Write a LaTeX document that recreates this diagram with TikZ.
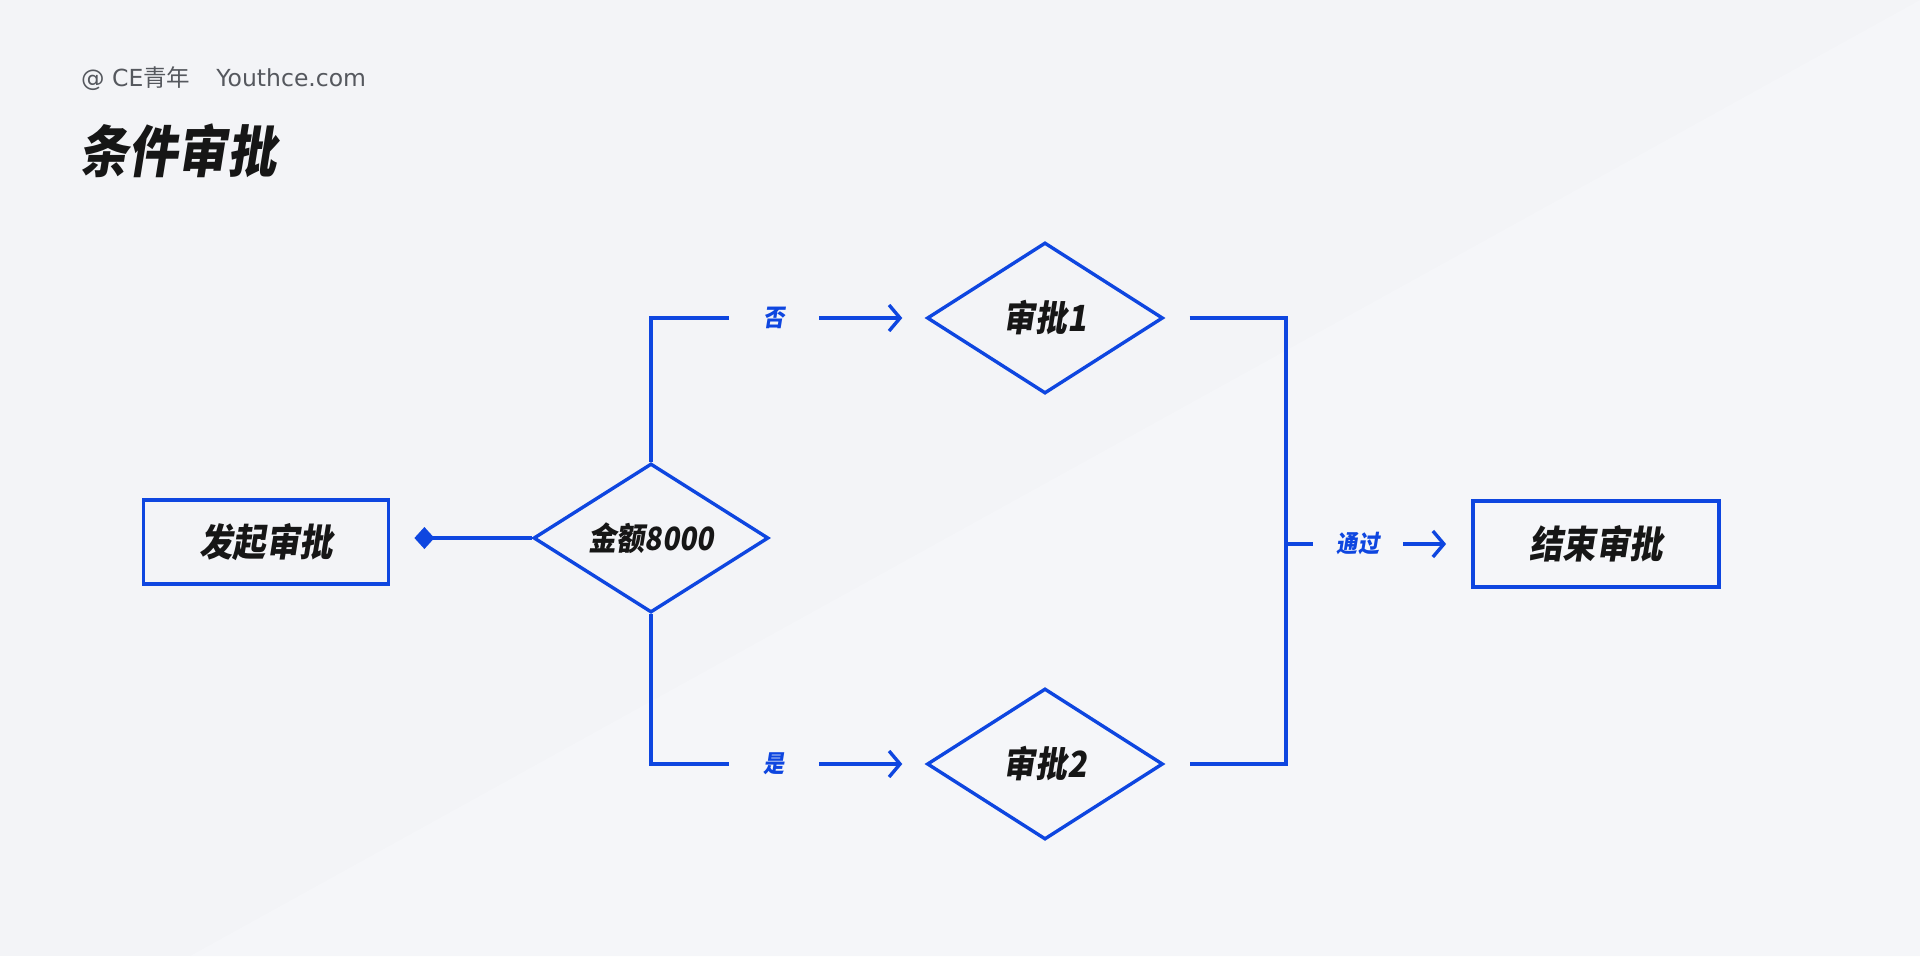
\documentclass[tikz,border=0pt]{standalone}
\usepackage{fontspec}
\setmainfont{Noto Sans CJK SC}
\newfontfamily\cjkplain{Noto Sans CJK SC}
\newfontfamily\latinsans{DejaVu Sans}
\newfontfamily\cjkslant[FakeSlant=0.16,FakeStretch=0.88]{Noto Sans CJK SC}
\usetikzlibrary{arrows.meta,positioning,shapes.geometric,calc}
\definecolor{flowBlue}{HTML}{0E46E0}
\definecolor{ink}{HTML}{161616}
\definecolor{inkSoft}{HTML}{55585E}
\definecolor{paper}{HTML}{F3F4F7}
\definecolor{paperLight}{HTML}{F5F6F9}
\tikzset{
  % --- flow shapes ---------------------------------------------------------
  stepbox/.style   = {draw=flowBlue, line width=3.8pt, fill=none,
                      minimum width=245pt, minimum height=84pt, inner sep=0pt,
                      font=\cjkslant\bfseries\fontsize{38}{40}\selectfont, text=ink},
  decision/.style  = {diamond, draw=flowBlue, line width=3.4pt, aspect=1.58,
                      minimum width=236pt, minimum height=151pt, inner sep=0pt,
                      font=\cjkslant\bfseries\fontsize{36}{40}\selectfont, text=ink},
  % --- connectors ----------------------------------------------------------
  flow/.style      = {draw=flowBlue, line width=3.4pt},
  flowarrow/.style = {flow, -{Straight Barb[length=11pt,width=26pt]}},
  % --- labels --------------------------------------------------------------
  branchlbl/.style = {minimum width=90pt, inner sep=0pt, text=flowBlue,
                      font=\cjkslant\bfseries\fontsize{24}{26}\selectfont},
  headlbl/.style   = {inner sep=0pt, text=inkSoft, font=\fontsize{23.5}{26}\selectfont},
  titlelbl/.style  = {inner sep=0pt, text=ink,
                      font=\cjkslant\bfseries\fontsize{56}{60}\selectfont},
}

\begin{document}
\begin{tikzpicture}[x=1pt,y=-1pt]
\useasboundingbox (0,0) rectangle (1920,956);
\fill[paper] (0,0) rectangle (1920,956);
\fill[paperLight] (1920,0) -- (1920,956) -- (190,956) -- cycle;

% header
\node[headlbl, anchor=base west] (brand) at (81,86)
     {{\latinsans @ CE}{\cjkplain 青年}\hspace{26pt}{\latinsans Youthce.com}};
\node[titlelbl, anchor=west] (title) at (79,151) {条件审批};

% flow nodes
\node[stepbox] (start) at (266,542) {发起审批};
\node[decision, minimum width=235pt, minimum height=149pt,
      font=\cjkslant\bfseries\fontsize{32}{34}\selectfont] (amount) at (651,538) {金额8000};
\node[decision] (appr1) at (1045,318) {审批1};
\node[decision] (appr2) at (1045,764) {审批2};
\node[stepbox, minimum width=246pt, minimum height=86pt] (finish) at (1596,544) {结束审批};

% branch labels
\node[branchlbl] (no)   at (774,318)  {否};
\node[branchlbl] (yes)  at (774,764)  {是};
\node[branchlbl] (pass) at (1358,544) {通过};
\coordinate (merge) at (1286,544);

% connectors
\draw[flow, {Diamond[length=20pt,width=22pt]}-, shorten <=24pt]
     (start.east |- amount.west) -- (amount.west);
\draw[flow] (amount.north) |- (no.west);
\draw[flow] (amount.south) |- (yes.west);
\draw[flowarrow, shorten >=23pt] (no.east) -- (appr1.west);
\draw[flowarrow, shorten >=23pt] (yes.east) -- (appr2.west);
\draw[flow] ([xshift=25pt]appr1.east) -| (merge) |- ([xshift=25pt]appr2.east);
\draw[flow] (merge) -- (pass.west);
\draw[flowarrow, shorten >=25pt] (pass.east) -- (finish.west);

\end{tikzpicture}
\end{document}
